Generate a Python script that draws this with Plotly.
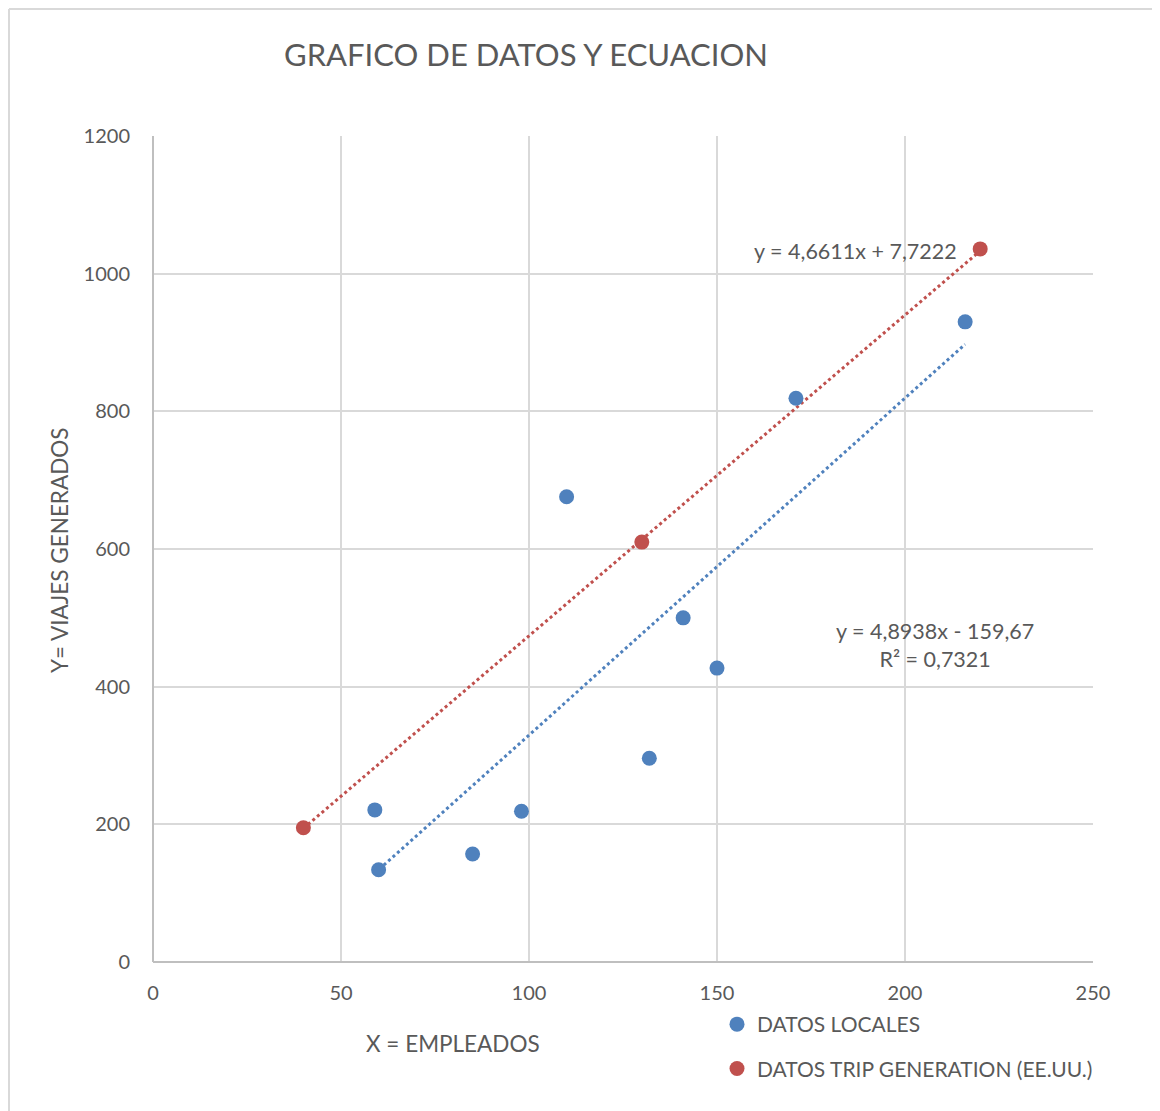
import numpy as np
import plotly.graph_objects as go

# Data
local_x = [60, 59, 85, 98, 110, 132, 141, 150, 171, 216]
local_y = [134, 221, 157, 219, 676, 296, 500, 427, 819, 930]
trip_x = [40, 130, 220]
trip_y = [195, 610, 1036]

local_slope, local_intercept = 4.8938, -159.67
trip_slope, trip_intercept = 4.6611, 7.7222

x_ticks = [0, 50, 100, 150, 200, 250]
y_ticks = [0, 200, 400, 600, 800, 1000, 1200]

BLUE = "#4F81BD"
RED = "#C0504D"
TXT = "#595959"
FONT = "Lato"

fig = go.Figure()

# trend lines
lx = np.array([min(local_x), max(local_x)])
tx = np.array([min(trip_x), max(trip_x)])
fig.add_trace(go.Scatter(x=lx, y=local_slope * lx + local_intercept, mode="lines",
                         line=dict(color=BLUE, width=3, dash="dot"), showlegend=False,
                         hoverinfo="skip"))
fig.add_trace(go.Scatter(x=tx, y=trip_slope * tx + trip_intercept, mode="lines",
                         line=dict(color=RED, width=3, dash="dot"), showlegend=False,
                         hoverinfo="skip"))

fig.add_trace(go.Scatter(x=local_x, y=local_y, mode="markers", name="DATOS LOCALES",
                         legendgroup="a",
                         marker=dict(color=BLUE, size=15)))
fig.add_trace(go.Scatter(x=trip_x, y=trip_y, mode="markers",
                         name="DATOS TRIP GENERATION (EE.UU.)", legendgroup="b",
                         marker=dict(color=RED, size=15)))

axis_common = dict(showgrid=True, gridcolor="#D9D9D9", gridwidth=2, zeroline=False,
                   tickfont=dict(family=FONT, size=20, color=TXT), ticks="",
                   showline=False)

fig.update_xaxes(range=[0, 250], tickvals=x_ticks, ticklabelstandoff=17, **axis_common)
fig.update_yaxes(range=[0, 1200], tickvals=y_ticks, ticklabelstandoff=22, **axis_common)

# axis lines (left and bottom)
fig.add_shape(type="line", xref="paper", yref="paper", x0=0, x1=0, y0=0, y1=1,
              line=dict(color="#BFBFBF", width=2))
fig.add_shape(type="line", xref="paper", yref="paper", x0=0, x1=1, y0=0, y1=0,
              line=dict(color="#BFBFBF", width=2))

W, H = 940, 826
def px_x(p):
    return (p - 153) / W
def px_y(p):
    return (962 - p) / H

# outer chart border (top and left)
fig.add_shape(type="line", xref="paper", yref="paper", x0=px_x(9), x1=1.2, y0=px_y(9), y1=px_y(9),
              line=dict(color="#D9D9D9", width=2))
fig.add_shape(type="line", xref="paper", yref="paper", x0=px_x(9), x1=px_x(9), y0=px_y(9), y1=-0.3,
              line=dict(color="#D9D9D9", width=2))

def note(text, x, y, size, angle=0):
    fig.add_annotation(text=text, x=px_x(x), y=px_y(y), xref="paper", yref="paper",
                       xanchor="center", yanchor="middle", align="center", textangle=angle,
                       showarrow=False, font=dict(family=FONT, size=size, color=TXT))

note("y = 4,6611x + 7,7222", 855, 251, 21.5)
note("y = 4,8938x - 159,67<br>R² = 0,7321", 935, 645, 21.5)
note("X = EMPLEADOS", 453, 1043, 22.5)
note("Y= VIAJES GENERADOS", 59, 550, 22.5, -90)

fig.update_layout(
    width=1160, height=1111,
    margin=dict(l=145, r=75, t=128, b=157),
    paper_bgcolor="white", plot_bgcolor="white",
    title=dict(text="GRAFICO DE DATOS Y ECUACION", x=px_x(526), xref="paper", xanchor="center",
               y=1 - 47 / 1111, yanchor="middle",
               font=dict(family=FONT, size=31, color=TXT)),
    legend=dict(x=px_x(717), y=px_y(1004), xanchor="left", yanchor="top",
                font=dict(family=FONT, size=21, color=TXT), tracegroupgap=14,
                itemwidth=30, bgcolor="rgba(0,0,0,0)"),
    showlegend=True,
)

fig.write_html("out.html")
